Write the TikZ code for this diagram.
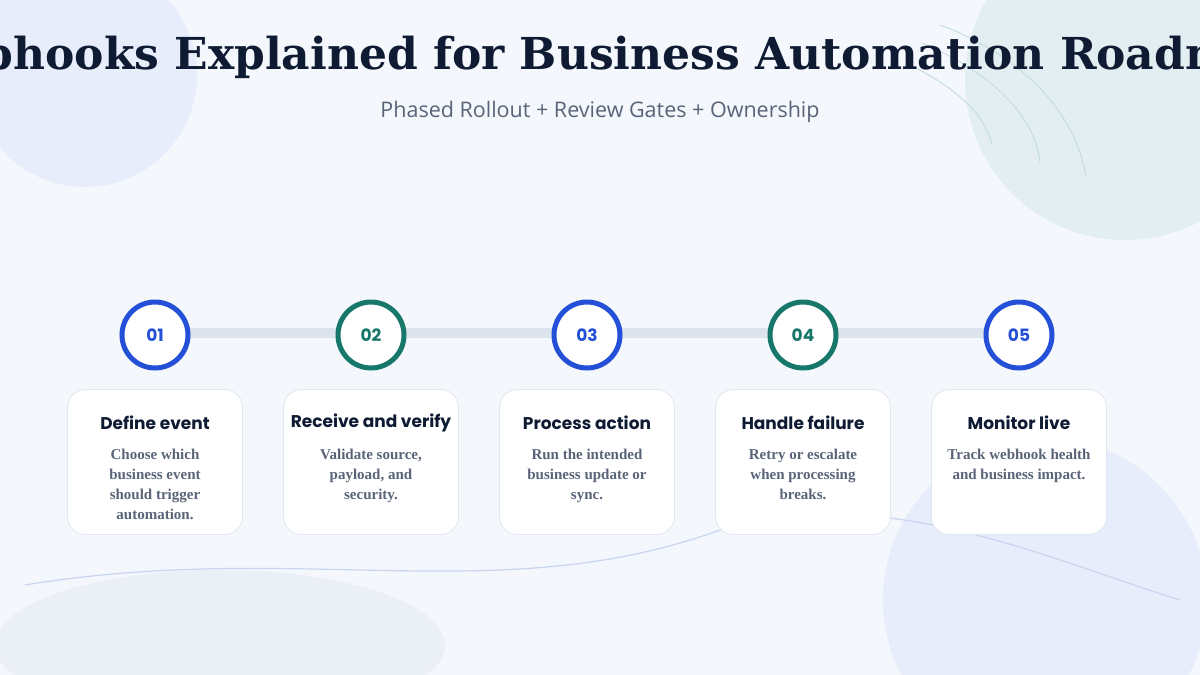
\documentclass[tikz,border=0pt]{standalone}
\usepackage{fontspec}
\setmainfont{Liberation Serif}
\newfontfamily\titlefont{DejaVu Serif}
\newfontfamily\headfont{Poppins}
\newfontfamily\subfont{Open Sans}
\usetikzlibrary{positioning}
\definecolor{bgcol}{HTML}{F4F8FC}
\definecolor{navy}{HTML}{0F1B33}
\definecolor{slate}{HTML}{5A6478}
\definecolor{bluec}{HTML}{2350D6}
\definecolor{tealc}{HTML}{16776A}
\definecolor{trackc}{HTML}{DCE3EC}
\definecolor{edgec}{HTML}{E1E7EF}
\definecolor{blobblue}{HTML}{E7EDFA}
\definecolor{blobteal}{HTML}{E2EEF1}
\definecolor{blobpale}{HTML}{EAF0F6}
\definecolor{arcteal}{HTML}{C5DEDC}
\definecolor{wavec}{HTML}{C9D5F0}

\begin{document}
\begin{tikzpicture}[x=1pt,y=-1pt,
  step circle/.style={circle,draw=#1,line width=5pt,fill=white,minimum size=66pt,
    inner sep=0pt,text=#1,font=\headfont\bfseries\fontsize{17}{17}\selectfont},
  card/.style={draw=edgec,line width=0.8pt,fill=white,rounded corners=18pt,
    minimum width=175pt,minimum height=145pt},
  card title/.style={text=navy,font=\headfont\bfseries\fontsize{17}{17}\selectfont},
  card text/.style={text=slate,align=center,
    font=\bfseries\fontsize{15}{20}\selectfont}
  ]
\useasboundingbox (0,0) rectangle (1200,675);
\begin{scope}
\clip (0,0) rectangle (1200,675);
\fill[bgcol] (0,0) rectangle (1200,675);
% background blobs
\fill[blobblue] (85,75) circle (112);
\fill[blobteal] (1125,80) circle (160);
\fill[blobblue] (1045,600) circle (162);
\fill[blobpale] (220,645) ellipse (225 and 75);
\draw[arcteal,line width=1pt] (940,25) .. controls (1020,55) and (1075,110) .. (1086,177);
\draw[arcteal,line width=1pt] (922,43) .. controls (990,72) and (1035,115) .. (1040,162);
\draw[arcteal,line width=1pt] (905,62) .. controls (960,90) and (985,115) .. (992,145);
\draw[wavec,line width=1.2pt] (25,585) .. controls (300,540) and (500,610) .. (720,530)
  .. controls (880,480) and (1050,560) .. (1180,600);
% title
\node[text=navy,font=\titlefont\bfseries\fontsize{44}{44}\selectfont] (title) at (600,57)
  {Webhooks Explained for Business Automation Roadmap};
\node[text=slate,font=\subfont\fontsize{21.5}{22}\selectfont] (subtitle) at (600,112)
  {Phased Rollout + Review Gates + Ownership};
\end{scope}
% track
\draw[trackc,line width=10pt] (155,333) -- (1019,333);
\node[step circle=bluec] (s1) at (155,335) {01};
\node[step circle=tealc] (s2) at (371,335) {02};
\node[step circle=bluec] (s3) at (587,335) {03};
\node[step circle=tealc] (s4) at (803,335) {04};
\node[step circle=bluec] (s5) at (1019,335) {05};
% cards
\foreach \n/\x/\t/\d in {1/155/Define event/{Choose which\\business event\\should trigger\\automation.},
  2/371/Receive and verify/{Validate source,\\payload, and\\security.},
  3/587/Process action/{Run the intended\\business update or\\sync.},
  4/803/Handle failure/{Retry or escalate\\when processing\\breaks.},
  5/1019/Monitor live/{Track webhook health\\and business impact.}}{
  \node[card] (c\n) at (\x,462) {};
  \node[card title] (h\n) at (\x,423) {\t};
  \node[card text,anchor=north] (d\n) at (\x,446) {\d};
}
\end{tikzpicture}
\end{document}
